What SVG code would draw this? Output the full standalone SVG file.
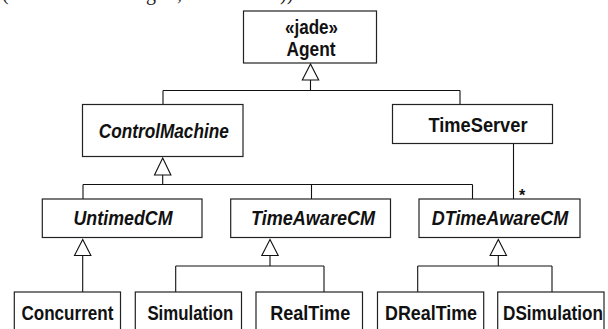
<svg xmlns="http://www.w3.org/2000/svg" width="608" height="329" viewBox="0 0 608 329">
<style>
.box{fill:#fff;stroke:#222;stroke-width:1.2}
.ln{fill:none;stroke:#111;stroke-width:1.1}
.tri{fill:#fff;stroke:#111;stroke-width:1.1}
.t{font-family:"Liberation Sans",Arial,sans-serif;font-size:20px;font-weight:bold;fill:#111;text-anchor:middle}
.i{font-style:italic}
.cap{font-family:"Liberation Serif","Times New Roman",serif;font-size:20px;fill:#222}
</style>
<g id="caption">
<text class="cap" x="2" y="0">(</text>
<text class="cap" x="146" y="0">g</text>
<text class="cap" x="177" y="0">,</text>
<text class="cap" x="280" y="0">))</text>
</g>
<g id="connectors">
<path class="ln" d="M310.5 80V90.5M163 90.5H460M163 90.5V104.5M460 90.5V104.5"/>
<polygon class="tri" points="310.5,64 302.3,80 318.7,80"/>
<path class="ln" d="M162.7 175V184.5M83 184.5H472.5M83 184.5V199M311.5 184.5V199M472.5 184.5V199"/>
<polygon class="tri" points="162.7,158 154.5,175 170.9,175"/>
<path class="ln" d="M513.5 143.5V199"/>
<text class="t" x="522" y="201" style="font-size:16px">*</text>
<path class="ln" d="M82.7 255.5V292"/>
<polygon class="tri" points="82.7,239.5 74.5,255.5 90.9,255.5"/>
<path class="ln" d="M270 255.5V266M175.7 266H324M175.7 266V292M324 266V292"/>
<polygon class="tri" points="270,239.5 261.8,255.5 278.2,255.5"/>
<path class="ln" d="M498.3 255.5V266M417.7 266H552M417.7 266V292M552 266V292"/>
<polygon class="tri" points="498.3,239.5 490.1,255.5 506.5,255.5"/>
</g>
<g id="agent">
<rect class="box" x="243.5" y="11" width="133" height="52"/>
<text class="t" x="311.5" y="34" textLength="53" lengthAdjust="spacingAndGlyphs">«jade»</text>
<text class="t" x="311" y="55.5" textLength="49" lengthAdjust="spacingAndGlyphs">Agent</text>
</g>
<g id="controlmachine">
<rect class="box" x="82.5" y="104.5" width="160.5" height="52"/>
<text class="t i" x="163.8" y="138" textLength="130" lengthAdjust="spacingAndGlyphs">ControlMachine</text>
</g>
<g id="timeserver">
<rect class="box" x="392.5" y="104.5" width="160" height="39"/>
<text class="t" x="478" y="131.5" textLength="99" lengthAdjust="spacingAndGlyphs">TimeServer</text>
</g>
<g id="untimedcm">
<rect class="box" x="42.3" y="199" width="159.7" height="38.5"/>
<text class="t i" x="123" y="224.5" textLength="99" lengthAdjust="spacingAndGlyphs">UntimedCM</text>
</g>
<g id="timeawarecm">
<rect class="box" x="230.7" y="199" width="159.8" height="38.5"/>
<text class="t i" x="313" y="224.5" textLength="124" lengthAdjust="spacingAndGlyphs">TimeAwareCM</text>
</g>
<g id="dtimeawarecm">
<rect class="box" x="419" y="199" width="161" height="38.5"/>
<text class="t i" x="500" y="224.5" textLength="136.5" lengthAdjust="spacingAndGlyphs">DTimeAwareCM</text>
</g>
<g id="concurrent">
<rect class="box" x="14.3" y="292" width="106.2" height="50"/>
<text class="t" x="67.4" y="320" textLength="92" lengthAdjust="spacingAndGlyphs">Concurrent</text>
</g>
<g id="simulation">
<rect class="box" x="135.3" y="292" width="106.2" height="50"/>
<text class="t" x="190.4" y="320" textLength="86" lengthAdjust="spacingAndGlyphs">Simulation</text>
</g>
<g id="realtime">
<rect class="box" x="256" y="292" width="106.5" height="50"/>
<text class="t" x="310.2" y="320" textLength="80" lengthAdjust="spacingAndGlyphs">RealTime</text>
</g>
<g id="drealtime">
<rect class="box" x="377.5" y="292" width="106.2" height="50"/>
<text class="t" x="431" y="320" textLength="92" lengthAdjust="spacingAndGlyphs">DRealTime</text>
</g>
<g id="dsimulation">
<rect class="box" x="497.7" y="292" width="106.3" height="50"/>
<text class="t" x="553" y="320" textLength="100" lengthAdjust="spacingAndGlyphs">DSimulation</text>
</g>
</svg>
